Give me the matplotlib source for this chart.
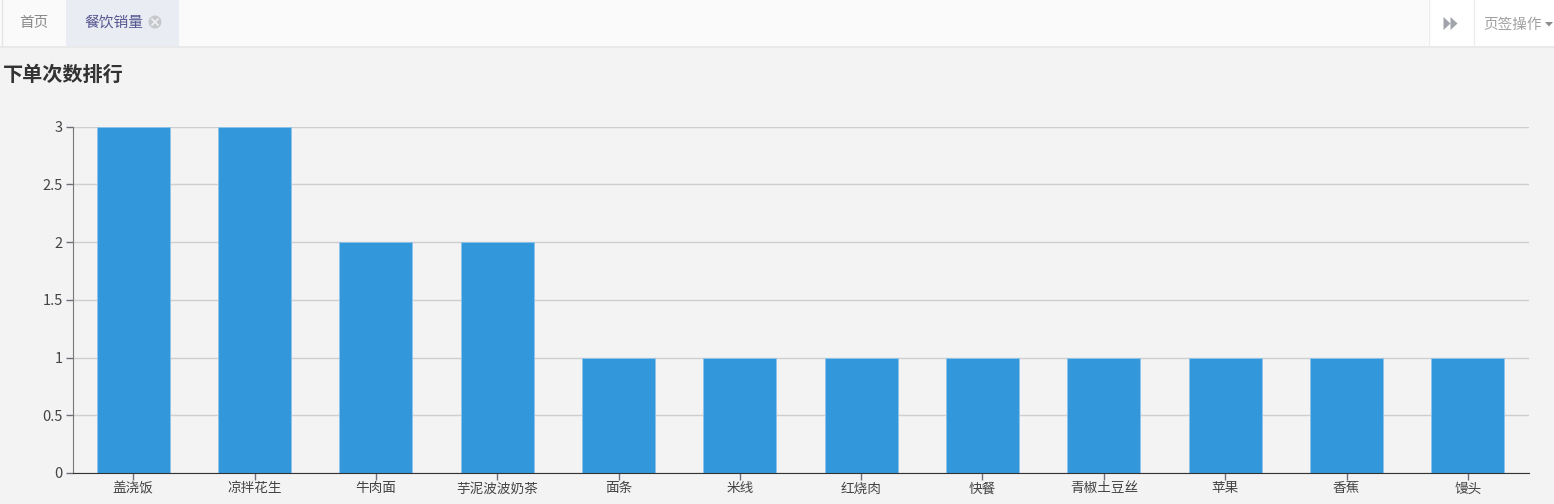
import matplotlib as mpl
mpl.use('Agg')
import matplotlib.pyplot as plt
from matplotlib.patches import Rectangle, Polygon, Circle
from matplotlib.lines import Line2D

plt.rcParams['font.family'] = ['Noto Sans CJK SC', 'DejaVu Sans']

categories = ['盖浇饭', '凉拌花生', '牛肉面', '芋泥波波奶茶', '面条', '米线', '红烧肉', '快餐', '青椒土豆丝', '苹果', '香蕉', '馒头']
orders = [3, 3, 2, 2, 1, 1, 1, 1, 1, 1, 1, 1]
y_ticks = [0, 0.5, 1, 1.5, 2, 2.5, 3]
y_labels = ['0', '0.5', '1', '1.5', '2', '2.5', '3']

W, H = 1554, 504
fig = plt.figure(figsize=(W / 100, H / 100), dpi=100, facecolor='#f3f3f3')


# page chrome is positioned in pixels, origin top left
def px(x, y):
    return x / W, 1 - y / H


def rect(x0, y0, x1, y1, color):
    fig.add_artist(Rectangle(px(x0, y1), (x1 - x0) / W, (y1 - y0) / H, transform=fig.transFigure,
                             facecolor=color, edgecolor='none'))


def vline(x, y0, y1, color):
    fig.add_artist(Line2D([x / W, x / W], [1 - y0 / H, 1 - y1 / H], color=color, lw=1))


rect(0, 0, W, 46, '#fafafa')
rect(0, 46, W, 48, '#e9e9e9')
rect(66, 0, 179, 46, '#e9edf3')
rect(1428, 0, W, 46, '#ffffff')
vline(1.5, 0, 46, '#e6e6e6')
vline(1428.5, 0, 46, '#ececec')
vline(1473.5, 0, 46, '#ececec')

fig.text(*px(34, 23), '首页', fontsize=10.5, color='#8a8a8a', ha='center', va='center')
fig.text(*px(113.5, 23), '餐饮销量', fontsize=10.6, color='#55558f', ha='center', va='center')
fig.text(*px(1513, 25), '页签操作', fontsize=10.5, color='#a0a0a0', ha='center', va='center')
fig.text(*px(3, 74), '下单次数排行', fontsize=14.5, fontweight='bold', color='#333333', ha='left', va='center')

# close button on the active tab, kept round by working in pixels
close_x, close_y = 155, 22
fig.add_artist(Circle((close_x, H - close_y), 6.5, transform=None, facecolor='#c6c8cc', edgecolor='none'))
for dx in (-3, 3):
    fig.add_artist(Line2D([close_x - dx, close_x + dx], [H - close_y - 3, H - close_y + 3], transform=None,
                          color='#eef0f4', lw=1.2))

# fast-forward icon and dropdown caret
for x0 in (1443.5, 1450.5):
    fig.add_artist(Polygon([px(x0, 17), px(x0 + 7, 23.5), px(x0, 30)], transform=fig.transFigure,
                           facecolor='#a2a4ab', edgecolor='none'))
fig.add_artist(Polygon([px(1545, 22), px(1553, 22), px(1549, 26.5)], transform=fig.transFigure,
                       facecolor='#8e8e8e', edgecolor='none'))

ax = fig.add_axes([72.5 / W, 1 - 473 / H, (1528.5 - 72.5) / W, (473 - 126.5) / H])
ax.set_facecolor('#f3f3f3')
ax.bar(range(len(categories)), orders, width=0.6, color='#3398db', edgecolor='#8fc4ea', linewidth=0.6, zorder=3)

ax.set_xlim(-0.5, len(categories) - 0.5)
ax.set_ylim(0, 3)
ax.set_yticks(y_ticks, y_labels)
ax.set_xticks(range(len(categories)), categories)
ax.tick_params(axis='y', length=5, width=1, color='#6e7079', labelsize=10.5, labelcolor='#444444', pad=2)
ax.tick_params(axis='x', length=5, width=1, color='#6e7079', labelsize=9.8, labelcolor='#444444', pad=1)
for lab in ax.get_yticklabels():
    lab.set_y(lab.get_position()[1])
ax.grid(axis='y', color='#cfcfcf', linewidth=1, zorder=1)
ax.set_axisbelow(True)

ax.spines['top'].set_visible(False)
ax.spines['right'].set_visible(False)
ax.spines['left'].set_color('#777777')
ax.spines['bottom'].set_color('#333333')
ax.spines['bottom'].set_zorder(5)

fig.savefig('out.png', dpi=100, facecolor=fig.get_facecolor())
